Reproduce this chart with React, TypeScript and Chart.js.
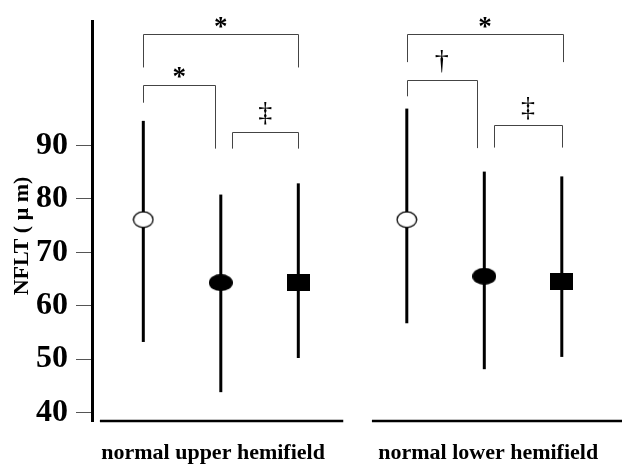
import React, { useEffect, useRef } from "react";
import { Chart, registerables } from "chart.js";

Chart.register(...registerables);

// ---------- data ----------
const categories = ["normal upper hemifield", "normal lower hemifield"];
const yTickValues = [40, 50, 60, 70, 80, 90];
const yAxisTitle = "NFLT ( \u03bc m)";

const openCircleMean = [76.1, 76.1];
const openCircleHigh = [94.6, 96.9];
const openCircleLow = [53.2, 56.7];

const filledCircleMean = [64.3, 65.5];
const filledCircleHigh = [80.8, 85.1];
const filledCircleLow = [43.8, 48.1];

const filledSquareMean = [64.4, 64.6];
const filledSquareHigh = [82.9, 84.2];
const filledSquareLow = [50.2, 50.4];

// significance brackets (x in member units inside a group, y in NFLT units)
const bracketGroup = [0, 0, 0, 1, 1, 1];
const bracketFrom = [0, 0, 1.15, 0, 0, 1.13];
const bracketTo = [2, 0.93, 2, 2.02, 0.9, 2];
const bracketTop = [110.9, 101.3, 92.6, 110.9, 102.3, 93.8];
const bracketLeftEnd = [104.6, 98.0, 89.4, 105.6, 99.2, 89.6];
const bracketRightEnd = [104.6, 89.4, 89.4, 105.6, 89.5, 89.6];
const bracketMarks = ["*", "*", "\u2021", "*", "\u2020", "\u2021"];
const bracketMarkY = [113.1, 103.6, 95.9, 113.1, 105.8, 96.9];

// ---------- layout ----------
const GROUP_STEP = 3.4;
const X_MIN = -0.662;
const X_MAX = 6.022;
const Y_MIN = 38.4;
const Y_MAX = 113.3;
const categoryLabelOffset = [0.9, 1.05];
const groupAxisFrom = [-0.56, -0.45];
const groupAxisTo = [2.58, 2.85];
const SERIF = '"Liberation Serif", "Times New Roman", serif';

const gx = (g: number, m: number) => g * GROUP_STEP + m;

export default function App() {
  const ref = useRef<HTMLCanvasElement>(null);

  useEffect(() => {
    const canvas = ref.current;
    if (!canvas) return;

    const makeMarker = (w: number, h: number, draw: (g: CanvasRenderingContext2D, w: number, h: number) => void) => {
      const c = document.createElement("canvas");
      c.width = w;
      c.height = h;
      const g = c.getContext("2d")!;
      draw(g, w, h);
      return c;
    };
    const openMarker = makeMarker(22, 18, (g, w, h) => {
      g.beginPath();
      g.ellipse(w / 2, h / 2, w / 2 - 1.2, h / 2 - 1.2, 0, 0, Math.PI * 2);
      g.fillStyle = "#fff";
      g.fill();
      g.lineWidth = 1.3;
      g.strokeStyle = "#000";
      g.stroke();
    });
    const filledMarker = makeMarker(24, 17, (g, w, h) => {
      g.beginPath();
      g.ellipse(w / 2, h / 2, w / 2, h / 2, 0, 0, Math.PI * 2);
      g.fillStyle = "#000";
      g.fill();
    });
    const squareMarker = makeMarker(23, 17, (g, w, h) => {
      g.fillStyle = "#000";
      g.fillRect(0, 0, w, h);
    });

    const series = [
      { name: "open", mean: openCircleMean, low: openCircleLow, high: openCircleHigh, marker: openMarker },
      { name: "filled", mean: filledCircleMean, low: filledCircleLow, high: filledCircleHigh, marker: filledMarker },
      { name: "square", mean: filledSquareMean, low: filledSquareLow, high: filledSquareHigh, marker: squareMarker },
    ];

    const datasets: any[] = [];
    series.forEach((s, m) => {
      categories.forEach((_, g) => {
        datasets.push({
          label: `${s.name}-err-${g}`,
          data: [
            { x: gx(g, m), y: s.low[g] },
            { x: gx(g, m), y: s.high[g] },
          ],
          showLine: true,
          borderColor: "#000",
          borderWidth: 3,
          pointRadius: 0,
          order: 2,
        });
      });
      datasets.push({
        label: s.name,
        data: categories.map((_, g) => ({ x: gx(g, m), y: s.mean[g] })),
        showLine: false,
        pointStyle: s.marker,
        pointRadius: 11,
        order: 0,
      });
    });

    const overlay = {
      id: "overlay",
      afterDraw(chart: any) {
        const ctx = chart.ctx as CanvasRenderingContext2D;
        const xs = chart.scales.x;
        const ys = chart.scales.y;
        const area = chart.chartArea;
        ctx.save();
        // x axis segments
        ctx.strokeStyle = "#000";
        ctx.lineWidth = 2.5;
        categories.forEach((_, g) => {
          ctx.beginPath();
          ctx.moveTo(xs.getPixelForValue(gx(g, groupAxisFrom[g])), area.bottom);
          ctx.lineTo(xs.getPixelForValue(gx(g, groupAxisTo[g])), area.bottom);
          ctx.stroke();
        });
        // brackets
        ctx.strokeStyle = "#444";
        ctx.lineWidth = 1;
        bracketGroup.forEach((g, i) => {
          const x1 = Math.round(xs.getPixelForValue(gx(g, bracketFrom[i]))) + 0.5;
          const x2 = Math.round(xs.getPixelForValue(gx(g, bracketTo[i]))) + 0.5;
          const yt = Math.round(ys.getPixelForValue(bracketTop[i])) + 0.5;
          ctx.beginPath();
          ctx.moveTo(x1, ys.getPixelForValue(bracketLeftEnd[i]));
          ctx.lineTo(x1, yt);
          ctx.lineTo(x2, yt);
          ctx.lineTo(x2, ys.getPixelForValue(bracketRightEnd[i]));
          ctx.stroke();
          // mark
          const mark = bracketMarks[i];
          ctx.font = mark === "*" ? `bold 27px ${SERIF}` : `28px ${SERIF}`;
          ctx.fillStyle = "#000";
          ctx.textAlign = "center";
          ctx.textBaseline = "alphabetic";
          const tm = ctx.measureText(mark);
          const cx = xs.getPixelForValue(gx(g, (bracketFrom[i] + bracketTo[i]) / 2));
          const cy = ys.getPixelForValue(bracketMarkY[i]);
          const by = cy + (tm.actualBoundingBoxAscent - tm.actualBoundingBoxDescent) / 2;
          ctx.fillText(mark, cx, by);
        });
        // y title
        ctx.translate(22, 236);
        ctx.rotate(-Math.PI / 2);
        ctx.font = `bold 22px ${SERIF}`;
        ctx.fillStyle = "#000";
        ctx.textAlign = "center";
        ctx.textBaseline = "middle";
        ctx.fillText(yAxisTitle, 0, 0);
        ctx.restore();
      },
    };

    const chart = new Chart(canvas, {
      type: "scatter",
      data: { datasets },
      options: {
        animation: false,
        responsive: false,
        devicePixelRatio: 1,
        layout: { padding: { top: 21, right: 0, bottom: 0, left: 0 } },
        plugins: { legend: { display: false }, tooltip: { enabled: false }, title: { display: false } },
        scales: {
          x: {
            type: "linear",
            min: X_MIN,
            max: X_MAX,
            afterBuildTicks: (s: any) => {
              s.ticks = categories.map((_, g) => ({ value: gx(g, categoryLabelOffset[g]) }));
            },
            afterFit: (s: any) => {
              s.height = 44;
            },
            border: { display: false },
            grid: { display: false, drawTicks: false },
            ticks: {
              color: "#000",
              padding: 19,
              maxRotation: 0,
              minRotation: 0,
              autoSkip: false,
              font: { family: SERIF, size: 22, weight: "bold" },
              callback: (_v: any, i: number) => categories[i],
            },
          },
          y: {
            type: "linear",
            min: Y_MIN,
            max: Y_MAX,
            afterBuildTicks: (s: any) => {
              s.ticks = yTickValues.map((v) => ({ value: v }));
            },
            afterFit: (s: any) => {
              s.width = 92;
              s.paddingTop = 0;
              s.paddingBottom = 0;
            },
            border: { display: true, color: "#000", width: 3 },
            grid: { drawOnChartArea: false, drawTicks: true, tickLength: 16, color: "#555", lineWidth: 1 },
            ticks: {
              color: "#000",
              padding: 8,
              font: { family: SERIF, size: 32, weight: "bold" },
              callback: (v: any) => String(v),
            },
          },
        },
      } as any,
      plugins: [overlay],
    });

    return () => chart.destroy();
  }, []);

  return (
    <div style={{ position: "fixed", left: 0, top: 0, width: 622, height: 465, background: "#fff" }}>
      <canvas ref={ref} width={622} height={465} style={{ display: "block", width: 622, height: 465 }} />
    </div>
  );
}
